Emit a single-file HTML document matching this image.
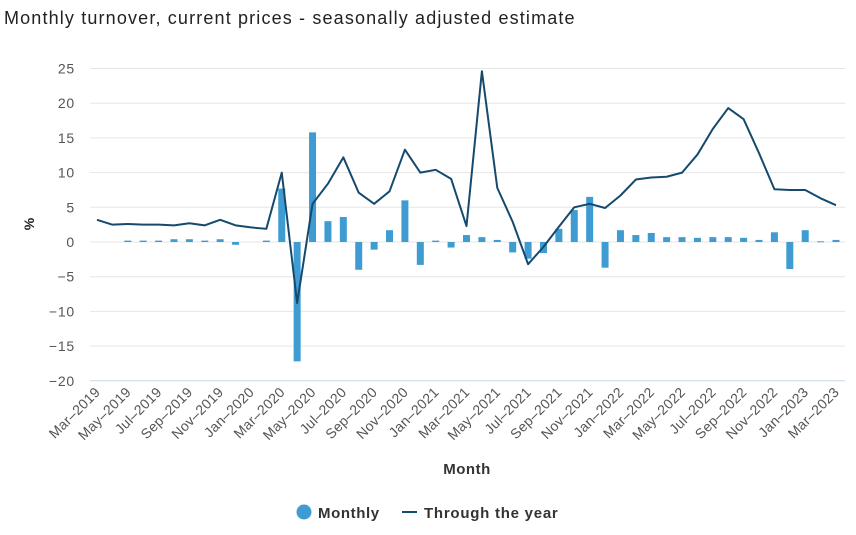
<!DOCTYPE html>
<html><head><meta charset="utf-8"><style>
body{margin:0;background:#fff;font-family:"Liberation Sans",sans-serif}
</style></head><body>
<svg width="856" height="530" xmlns="http://www.w3.org/2000/svg">
<text x="4" y="24" font-size="18" letter-spacing="1.15" fill="#222">Monthly turnover, current prices - seasonally adjusted estimate</text>
<g id="grid"></g><g id="bars"></g><g id="line"></g><g id="xlabels"></g>
<text transform="translate(34,224) rotate(-90)" text-anchor="middle" font-size="14" font-weight="bold" fill="#222">%</text>
<text x="467" y="474" text-anchor="middle" font-size="15" font-weight="bold" letter-spacing="0.5" fill="#333">Month</text>
<g><circle cx="304" cy="512" r="7.5" fill="#3f9cd2"/><text x="318" y="518" font-size="15" font-weight="bold" letter-spacing="0.6" fill="#333">Monthly</text></g>
<g><line x1="402" y1="512" x2="417" y2="512" stroke="#154a6e" stroke-width="2"/><text x="424" y="518" font-size="15" font-weight="bold" letter-spacing="0.75" fill="#333">Through the year</text></g>
</svg>
<script>
const categories=["Mar-2019","Apr-2019","May-2019","Jun-2019","Jul-2019","Aug-2019","Sep-2019","Oct-2019","Nov-2019","Dec-2019","Jan-2020","Feb-2020","Mar-2020","Apr-2020","May-2020","Jun-2020","Jul-2020","Aug-2020","Sep-2020","Oct-2020","Nov-2020","Dec-2020","Jan-2021","Feb-2021","Mar-2021","Apr-2021","May-2021","Jun-2021","Jul-2021","Aug-2021","Sep-2021","Oct-2021","Nov-2021","Dec-2021","Jan-2022","Feb-2022","Mar-2022","Apr-2022","May-2022","Jun-2022","Jul-2022","Aug-2022","Sep-2022","Oct-2022","Nov-2022","Dec-2022","Jan-2023","Feb-2023","Mar-2023"];
const monthly=[0,0,0.2,0.2,0.2,0.4,0.4,0.2,0.4,-0.4,0,0.2,7.7,-17.2,15.8,3.0,3.6,-4.0,-1.1,1.7,6.0,-3.3,0.2,-0.8,1.0,0.7,0.3,-1.5,-2.4,-1.6,1.9,4.6,6.5,-3.7,1.7,1.0,1.3,0.7,0.7,0.6,0.7,0.7,0.6,0.3,1.4,-3.9,1.7,0.1,0.3];
const throughYear=[3.2,2.5,2.6,2.5,2.5,2.4,2.7,2.4,3.2,2.4,2.1,1.9,10.0,-8.8,5.5,8.4,12.2,7.1,5.5,7.3,13.3,10.0,10.4,9.1,2.3,24.6,7.8,2.9,-3.2,-0.7,2.2,5.0,5.5,4.9,6.7,9.0,9.3,9.4,10.0,12.6,16.3,19.3,17.7,12.8,7.6,7.5,7.5,6.3,5.3];
const yTicks=[25,20,15,10,5,0,-5,-10,-15,-20];
const NS="http://www.w3.org/2000/svg";
const x0=97,x1=836,yTop=68.5,yBot=380.8,yMax=25,yMin=-20;
function xs(i){return x0+(x1-x0)*i/(categories.length-1);}
function ys(v){return yTop+(yMax-v)*(yBot-yTop)/(yMax-yMin);}
function mk(t,a,p){const e=document.createElementNS(NS,t);for(const k in a)e.setAttribute(k,a[k]);p.appendChild(e);return e;}
const grid=document.getElementById('grid');
yTicks.forEach(v=>{
 const l=mk('line',{x1:90,x2:845,y1:ys(v),y2:ys(v),stroke:v===-20?'#ccd6eb':'#e6e6e6','stroke-width':1},grid);
 
 
 const t=mk('text',{x:75,y:ys(v)+5,'text-anchor':'end','font-size':14,'letter-spacing':0.8,fill:'#555'},grid);
 t.textContent=v<0?'\u2212'+(-v):String(v);
 
 
});
const bars=document.getElementById('bars');
monthly.forEach((v,i)=>{
 const y0=ys(0),y=ys(v);
 const r=mk('rect',{x:xs(i)-3.5,y:Math.min(y0,y),width:7,height:Math.max(Math.abs(y-y0),v!==0?1:0),fill:'#3f9cd2'},bars);
 
 
});
const pl=mk('polyline',{points:throughYear.map((v,i)=>xs(i)+','+ys(v)).join(' '),fill:'none',stroke:'#154a6e','stroke-width':2,'stroke-linejoin':'round'},document.getElementById('line'));


const xl=document.getElementById('xlabels');
categories.forEach((c,i)=>{
 if(i%2)return;
 const t=mk('text',{transform:`translate(${xs(i)+4},393) rotate(-45)`,'text-anchor':'end','font-size':14,'letter-spacing':0.3,fill:'#555'},xl);
 t.textContent=c.replace('-','\u2013');
 
 
});
</script>
</body></html>
